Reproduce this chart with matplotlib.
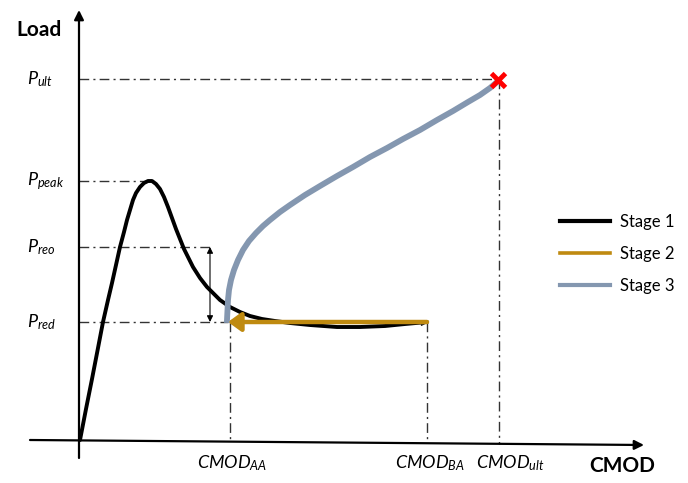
import matplotlib.pyplot as plt

plt.rcParams['font.family'] = ['Lato', 'DejaVu Sans']
plt.rcParams['mathtext.fontset'] = 'custom'
plt.rcParams['mathtext.it'] = 'Lato:italic'
plt.rcParams['mathtext.rm'] = 'Lato'

# Sketch coordinates (y grows downward)
x0, y0 = 79, 440          # origin
p_ult, p_peak, p_reo, p_red = 79, 181, 247, 322
cmod_aa, cmod_ba, cmod_ult = 228, 427, 499

# Stage 1: rise, peak, softening
stage1_x = [80, 86, 92, 98, 103, 108, 112, 116, 120, 124, 127, 130, 133, 136, 140, 144, 148,
            152, 156, 160, 164, 168, 172, 176, 180, 184, 188, 193, 200, 207, 214, 220, 230,
            240, 250, 262, 275, 290, 310, 337, 360, 385, 405, 427]
stage1_y = [440, 409, 379, 348, 322, 300, 283, 265, 247, 232, 220, 210, 200, 193, 187, 183, 181,
            181, 184, 189, 197, 207, 218, 229, 239, 249, 257, 267, 278, 287, 294, 300, 307,
            312, 316, 319, 321, 323, 325, 327, 327, 326, 324, 322]

# Stage 2: unloading back to CMOD_AA
stage2_x = [cmod_ba, cmod_aa]
stage2_y = [p_red, p_red]

# Stage 3: reloading up to failure
stage3_x = [227, 227.5, 228, 229, 231, 234, 238, 243, 249, 256, 263, 270, 280, 290, 305,
            320, 337, 353, 370, 387, 403, 420, 437, 453, 468, 480, 490, 497]
stage3_y = [320, 310, 300, 290, 280, 270, 260, 250, 241, 233, 226, 220, 212, 205, 195,
            186, 176, 167, 157, 148, 139, 130, 120, 111, 102, 95, 88, 82]

y_labels = [r'$P_{ult}$', r'$P_{peak}$', r'$P_{reo}$', r'$P_{red}$']
y_levels = [p_ult, p_peak, p_reo, p_red]
x_labels = [r'$CMOD_{AA}$', r'$CMOD_{BA}$', r'$CMOD_{ult}$']
x_levels = [232, 430, 510]

black = '#000000'
orange = '#BF8A10'
blue = '#8497B0'

fig = plt.figure(figsize=(6.88, 4.83), dpi=100)
ax = fig.add_axes([0, 0, 1, 1])
ax.set_xlim(0, 688)
ax.set_ylim(483, 0)
ax.axis('off')

# axes with arrows
ax.annotate('', xy=(x0, 10), xytext=(x0, 458),
            arrowprops=dict(arrowstyle='-|>', color='black', lw=1.6,
                            mutation_scale=14, shrinkA=0, shrinkB=0))
ax.annotate('', xy=(644, 445), xytext=(30, 440),
            arrowprops=dict(arrowstyle='-|>', color='black', lw=1.6,
                            mutation_scale=14, shrinkA=0, shrinkB=0))

# dash-dot guide lines
dd = dict(color='#333333', lw=1.0, ls=(0, (7, 3, 1.5, 3)))
ax.plot([x0, cmod_ult], [p_ult, p_ult], **dd)
ax.plot([x0, 150], [p_peak, p_peak], **dd)
ax.plot([x0, 210], [p_reo, p_reo], **dd)
ax.plot([x0, cmod_aa], [p_red, p_red], **dd)
ax.plot([cmod_aa + 2, cmod_aa + 2], [p_red, 441], **dd)
ax.plot([cmod_ba, cmod_ba], [p_red, 443], **dd)
ax.plot([cmod_ult, cmod_ult], [p_ult, 444], **dd)

# reopening drop arrow
ax.annotate('', xy=(210, p_red), xytext=(210, p_reo),
            arrowprops=dict(arrowstyle='<|-|>', color='black', lw=0.8,
                            mutation_scale=9, shrinkA=0, shrinkB=0))

# curves
ax.plot(stage1_x, stage1_y, color=black, lw=2.8, solid_capstyle='round',
        solid_joinstyle='round')
ax.annotate('', xy=(cmod_ba, p_red + 1), xytext=(cmod_ba - 12, p_red + 1.5),
            arrowprops=dict(arrowstyle='-|>', color='#222222', lw=0.8,
                            mutation_scale=8, shrinkA=0, shrinkB=0))
ax.annotate('', xy=(stage2_x[1], stage2_y[1]), xytext=(stage2_x[0], stage2_y[0]),
            arrowprops=dict(arrowstyle='-|>,head_length=0.55,head_width=0.4', color=orange,
                            lw=3.2, mutation_scale=14, shrinkA=0, shrinkB=0))
ax.plot(stage3_x, stage3_y, color=blue, lw=4.2, solid_joinstyle='round')
ax.plot([cmod_ult - 1], [p_ult + 1], marker='x', color='#FF0000', ms=10, mew=3.5)

# labels
for lab, yv in zip(y_labels, y_levels):
    ax.text(27, yv, lab, fontsize=13, ha='left', va='center')
for lab, xv in zip(x_labels, x_levels):
    ax.text(xv, 463, lab, fontsize=13, ha='center', va='center')
ax.text(39, 30, 'Load', fontsize=15, fontweight='bold', ha='center', va='center')
ax.text(622, 466, 'CMOD', fontsize=15, fontweight='bold', ha='center', va='center')

# legend
h1, = ax.plot([], [], color=black, lw=3.0)
h2, = ax.plot([], [], color=orange, lw=2.6)
h3, = ax.plot([], [], color=blue, lw=3.0)
ax.legend([h1, h2, h3], ['Stage 1', 'Stage 2', 'Stage 3'], loc='upper left',
          bbox_to_anchor=(545 / 688, 1 - 199 / 483), frameon=False, fontsize=12,
          handlelength=3.0, handletextpad=0.6, labelspacing=0.95)

fig.savefig('out.png', dpi=100)
